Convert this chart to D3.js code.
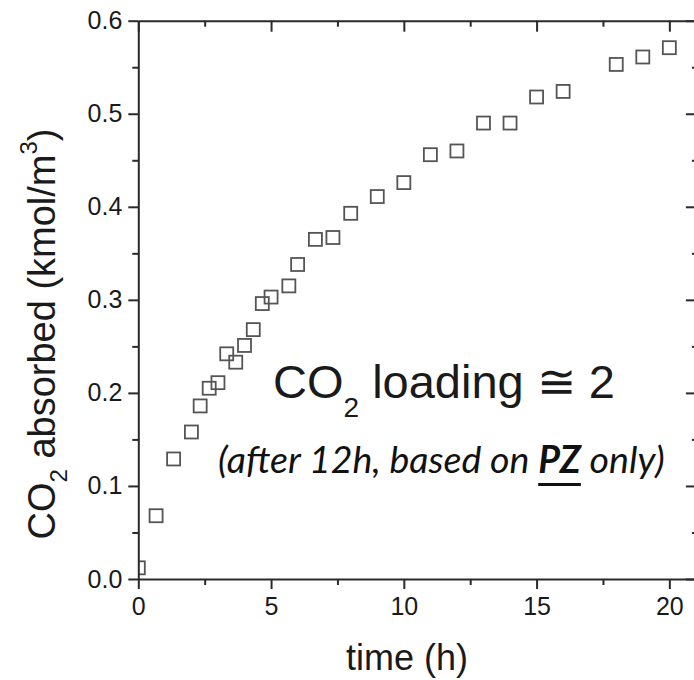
<!DOCTYPE html>
<html>
<head>
<meta charset="utf-8">
<script src="https://cdn.jsdelivr.net/npm/d3@7"></script>
<style>
  html, body { margin: 0; padding: 0; background: #fff; }
  svg { display: block; }
  text { font-family: "Liberation Sans", Arial, Helvetica, sans-serif; fill: #1a1a1a; }
</style>
</head>
<body>
<svg id="chart" width="694" height="680"></svg>
<script>
// ---- data ----
const timeHours = [0, 0.67, 1.33, 2, 2.33, 2.67, 3, 3.33, 3.67, 4, 4.33, 4.67, 5, 5.67, 6, 6.67, 7.33, 8, 9, 10, 11, 12, 13, 14, 15, 16, 18, 19, 20];
const co2Absorbed = [0.012, 0.068, 0.129, 0.158, 0.186, 0.205, 0.211, 0.242, 0.233, 0.251, 0.268, 0.296, 0.303, 0.315, 0.338, 0.365, 0.367, 0.393, 0.411, 0.426, 0.456, 0.460, 0.490, 0.490, 0.518, 0.524, 0.553, 0.561, 0.571];
const xTickValues = [0, 5, 10, 15, 20];
const xMinorTicks = [2.5, 7.5, 12.5, 17.5];
const yTickValues = [0.0, 0.1, 0.2, 0.3, 0.4, 0.5, 0.6];
const yMinorTicks = [0.05, 0.15, 0.25, 0.35, 0.45, 0.55];
const xLabel = "time (h)";
const annotationMain = ["CO", "2", " loading \u2245 2"];
const annotationNote = ["(after 12h, based on ", "PZ", " only)"];

const points = timeHours.map((t, i) => ({ t, v: co2Absorbed[i] }));

// ---- layout ----
const svg = d3.select("#chart");
const pLeft = 138.3, pRight = 695.9, pTop = 20.7, pBottom = 579;
const x = d3.scaleLinear().domain([0, 21]).range([pLeft, pRight]);
const y = d3.scaleLinear().domain([0, 0.6]).range([pBottom, pTop]);
const axisColor = "#2a2a2a";

svg.append("defs").append("clipPath").attr("id", "plotclip")
  .append("rect").attr("x", pLeft).attr("y", pTop)
  .attr("width", pRight - pLeft).attr("height", pBottom - pTop);

// markers
svg.append("g").attr("clip-path", "url(#plotclip)")
  .selectAll("rect").data(points).join("rect")
  .attr("x", d => x(d.t) - 6.5)
  .attr("y", d => y(d.v) - 6.5)
  .attr("width", 13).attr("height", 13)
  .attr("fill", "none")
  .attr("stroke", "#555")
  .attr("stroke-width", 1.8);

// axes
function styleAxis(g) {
  g.selectAll("path.domain").attr("stroke", axisColor).attr("stroke-width", 2);
  g.selectAll(".tick line").attr("stroke", axisColor).attr("stroke-width", 2);
  g.selectAll(".tick text").attr("font-size", 25).attr("fill", "#1a1a1a")
    .attr("font-family", "'Liberation Sans', Arial, sans-serif");
}

// bottom
const gB = svg.append("g").attr("transform", `translate(0,${pBottom})`)
  .call(d3.axisBottom(x).tickValues(xTickValues).tickFormat(d3.format("d"))
    .tickSizeInner(10).tickSizeOuter(0).tickPadding(8));
styleAxis(gB);
svg.append("g").attr("transform", `translate(0,${pBottom})`)
  .call(d3.axisBottom(x).tickValues(xMinorTicks).tickFormat("").tickSizeInner(6).tickSizeOuter(0))
  .call(g => g.select(".domain").remove()).call(styleAxis);

// left
const gL = svg.append("g").attr("transform", `translate(${pLeft},0)`)
  .call(d3.axisLeft(y).tickValues(yTickValues).tickFormat(d3.format(".1f"))
    .tickSizeInner(10).tickSizeOuter(0).tickPadding(6));
styleAxis(gL);
svg.append("g").attr("transform", `translate(${pLeft},0)`)
  .call(d3.axisLeft(y).tickValues(yMinorTicks).tickFormat("").tickSizeInner(6).tickSizeOuter(0))
  .call(g => g.select(".domain").remove()).call(styleAxis);

// top (ticks inward)
svg.append("g").attr("transform", `translate(0,${pTop})`)
  .call(d3.axisTop(x).tickValues(xTickValues).tickFormat("").tickSizeInner(-11).tickSizeOuter(0))
  .call(styleAxis);
svg.append("g").attr("transform", `translate(0,${pTop})`)
  .call(d3.axisTop(x).tickValues(xMinorTicks).tickFormat("").tickSizeInner(-6).tickSizeOuter(0))
  .call(g => g.select(".domain").remove()).call(styleAxis);

// right (ticks inward)
svg.append("g").attr("transform", `translate(${pRight},0)`)
  .call(d3.axisRight(y).tickValues(yTickValues).tickFormat("").tickSizeInner(-10).tickSizeOuter(0))
  .call(styleAxis);
svg.append("g").attr("transform", `translate(${pRight},0)`)
  .call(d3.axisRight(y).tickValues(yMinorTicks).tickFormat("").tickSizeInner(-4).tickSizeOuter(0))
  .call(g => g.select(".domain").remove()).call(styleAxis);

// x label
svg.append("text")
  .attr("x", 407).attr("y", 670)
  .attr("text-anchor", "middle")
  .attr("font-size", 36)
  .text(xLabel);

// y label (rotated)
const yl = svg.append("text")
  .attr("transform", "translate(55,334) rotate(-90)")
  .attr("text-anchor", "middle")
  .attr("font-size", 38);
yl.append("tspan").text("CO");
yl.append("tspan").attr("font-size", 24).attr("dy", 12).text("2");
yl.append("tspan").attr("dy", -12).text(" absorbed (kmol/m");
yl.append("tspan").attr("font-size", 24).attr("dy", -18).text("3");
yl.append("tspan").attr("dy", 18).text(")");

// main annotation
const ann = svg.append("text")
  .attr("x", 273).attr("y", 398)
  .attr("font-size", 47);
ann.append("tspan").text(annotationMain[0]);
ann.append("tspan").attr("font-size", 28).attr("dy", 19).text(annotationMain[1]);
ann.append("tspan").attr("dy", -19).text(annotationMain[2]);

// note annotation
const note = svg.append("text")
  .attr("x", 218).attr("y", 473)
  .attr("font-size", 28)
  .attr("font-style", "italic")
  .style("font-family", "Lato, 'Open Sans', sans-serif")
  .style("fill", "#111");
note.append("tspan").text(annotationNote[0]);
note.append("tspan").attr("font-weight", "bold").text(annotationNote[1]);
note.append("tspan").text(annotationNote[2]);
// fit to target width
const targetW = 447;
const w0 = note.node().getComputedTextLength();
note.attr("font-size", 28 * targetW / w0);
// underline PZ
const nb = note.node();
const sPos = nb.getStartPositionOfChar(annotationNote[0].length);
const ePos = nb.getEndPositionOfChar(annotationNote[0].length + 1);
svg.append("line")
  .attr("x1", sPos.x).attr("x2", ePos.x)
  .attr("y1", 484.5).attr("y2", 484.5)
  .attr("stroke", "#111").attr("stroke-width", 3);
</script>
</body>
</html>
